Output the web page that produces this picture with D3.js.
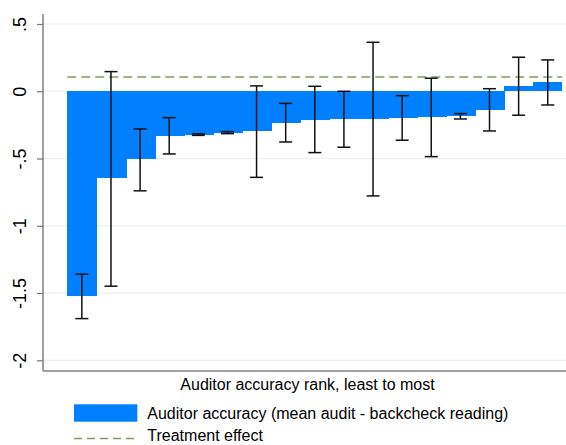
<!DOCTYPE html>
<html>
<head>
<meta charset="utf-8">
<script src="https://cdn.jsdelivr.net/npm/d3@7"></script>
<style>
  html, body { margin: 0; padding: 0; background: #fff; }
  svg { display: block; font-family: "Liberation Sans", Arial, Helvetica, sans-serif; }
</style>
</head>
<body>
<svg id="chart" width="566" height="445"></svg>
<script>
// ---- data ----
const ranks = [1,2,3,4,5,6,7,8,9,10,11,12,13,14,15,16,17];
const accuracy = [-1.52,-0.646,-0.505,-0.332,-0.322,-0.31,-0.295,-0.233,-0.213,-0.208,-0.204,-0.198,-0.19,-0.186,-0.139,0.039,0.069];
const ciLow  = [-1.69,-1.449,-0.74,-0.466,-0.328,-0.315,-0.64,-0.377,-0.456,-0.416,-0.778,-0.364,-0.486,-0.206,-0.295,-0.178,-0.102];
const ciHigh = [-1.36, 0.146,-0.28,-0.196,-0.316,-0.300, 0.04,-0.09, 0.037, 0.0,  0.364,-0.033, 0.097,-0.166, 0.019, 0.253, 0.233];
const treatmentEffect = 0.106;
const yTicks = [0.5, 0, -0.5, -1, -1.5, -2];
const yTickLabels = [".5", "0", "-.5", "-1", "-1.5", "-2"];
const xTitle = "Auditor accuracy rank, least to most";
const legendLabels = ["Auditor accuracy (mean audit - backcheck reading)", "Treatment effect"];

const barColor = "#007fff";
const teColor = "#7f9a60";

const svg = d3.select("#chart");
const axisX = 43, plotRight = 566, plotBottom = 371, plotTop = 14;

const x = d3.scaleBand().domain(ranks).range([67.3, 562.3]).padding(0);
const y = d3.scaleLinear().domain([-2, 0.5]).range([360.3, 24]);

// gridlines
svg.append("g").selectAll("line").data(yTicks).join("line")
  .attr("x1", axisX).attr("x2", plotRight)
  .attr("y1", d => y(d)).attr("y2", d => y(d))
  .attr("stroke", "#e8f0f0").attr("stroke-width", 1.2);

// bars
svg.append("g").attr("shape-rendering", "crispEdges")
  .selectAll("rect").data(ranks).join("rect")
  .attr("x", d => x(d))
  .attr("width", (d, i) => i < ranks.length - 1 ? x.bandwidth() + 1 : x.bandwidth())
  .attr("y", (d, i) => y(Math.max(0, accuracy[i])))
  .attr("height", (d, i) => Math.abs(y(accuracy[i]) - y(0)))
  .attr("fill", barColor);

// treatment effect line
svg.append("line")
  .attr("x1", x(1)).attr("x2", x(17) + x.bandwidth())
  .attr("y1", y(treatmentEffect)).attr("y2", y(treatmentEffect))
  .attr("stroke", teColor).attr("stroke-width", 1.6)
  .attr("stroke-dasharray", "9,5");

// error bars
const eb = svg.append("g").attr("stroke", "#111").attr("stroke-width", 1.5);
ranks.forEach((r, i) => {
  const cx = x(r) + x.bandwidth() / 2;
  eb.append("line").attr("x1", cx).attr("x2", cx).attr("y1", y(ciLow[i])).attr("y2", y(ciHigh[i]));
  eb.append("line").attr("x1", cx - 6.5).attr("x2", cx + 6.5).attr("y1", y(ciLow[i])).attr("y2", y(ciLow[i]));
  eb.append("line").attr("x1", cx - 6.5).attr("x2", cx + 6.5).attr("y1", y(ciHigh[i])).attr("y2", y(ciHigh[i]));
});

// y axis
const yAxis = d3.axisLeft(y).tickValues(yTicks)
  .tickFormat((d, i) => yTickLabels[i]).tickSize(6).tickSizeOuter(0);
const gy = svg.append("g").attr("transform", `translate(${axisX},0)`).call(yAxis);
gy.select(".domain").remove();
gy.selectAll(".tick line").attr("stroke", "#777").attr("stroke-width", 1.2);
gy.selectAll(".tick text")
  .attr("x", 0).attr("dy", "0.35em")
  .attr("transform", "translate(-23,0) rotate(-90)")
  .attr("text-anchor", "middle")
  .attr("font-size", 18).attr("fill", "#000")
  .style("font-family", "'Liberation Sans', Arial, sans-serif");

// axis lines
svg.append("line").attr("x1", axisX).attr("x2", axisX).attr("y1", plotTop).attr("y2", plotBottom)
  .attr("stroke", "#808080").attr("stroke-width", 1.5);
svg.append("line").attr("x1", axisX).attr("x2", plotRight).attr("y1", plotBottom).attr("y2", plotBottom)
  .attr("stroke", "#808080").attr("stroke-width", 1.5);

// x title
svg.append("text").attr("x", 307.5).attr("y", 389.5).attr("text-anchor", "middle")
  .attr("font-size", 16).attr("fill", "#000").text(xTitle);

// legend
const lg = svg.append("g");
lg.append("rect").attr("x", 74).attr("y", 404.3).attr("width", 63.3).attr("height", 17.4).attr("fill", barColor);
lg.append("text").attr("x", 147.3).attr("y", 418.8).attr("font-size", 16).attr("fill", "#000").text(legendLabels[0]);
lg.append("line").attr("x1", 74).attr("x2", 137.3).attr("y1", 438.5).attr("y2", 438.5)
  .attr("stroke", teColor).attr("stroke-width", 1.6).attr("stroke-dasharray", "8,5");
lg.append("text").attr("x", 147.3).attr("y", 441).attr("font-size", 16).attr("fill", "#000").text(legendLabels[1]);
</script>
</body>
</html>
